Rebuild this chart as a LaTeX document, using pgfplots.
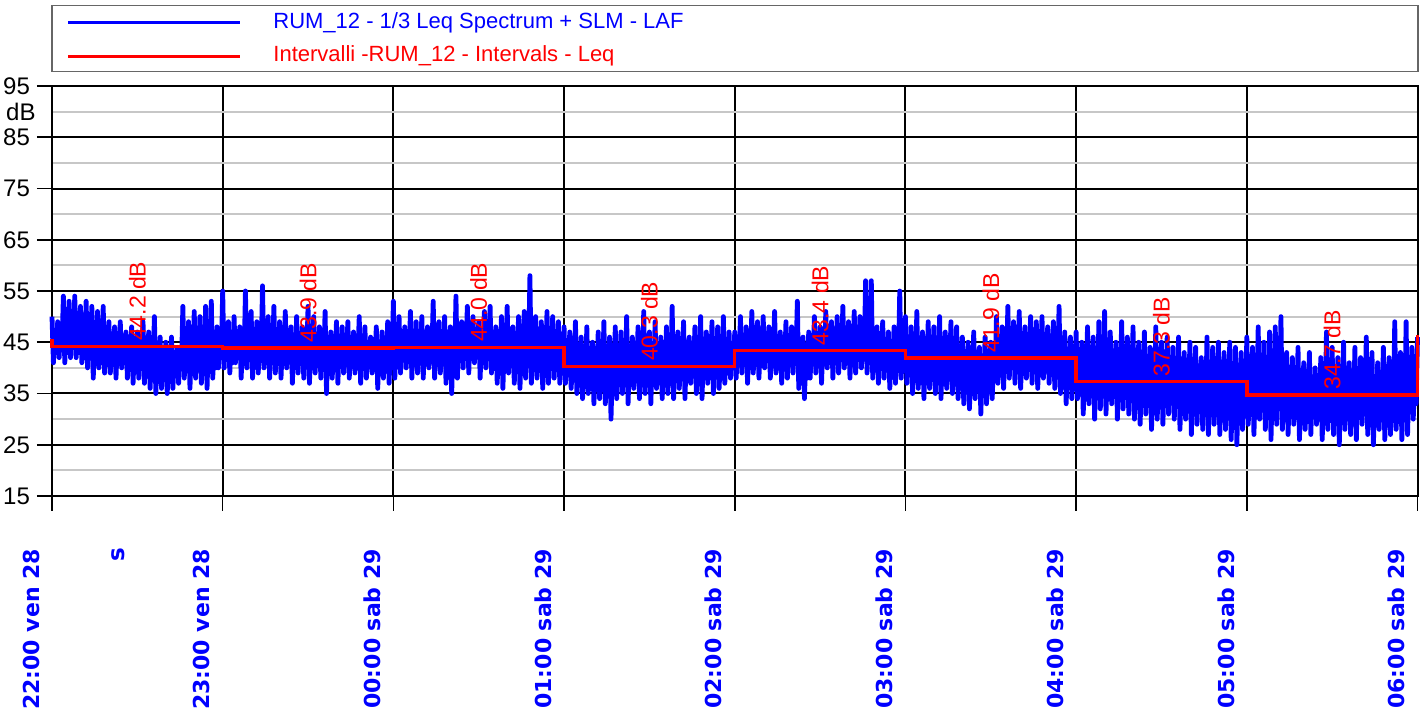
\documentclass[border=0pt]{standalone}
\usepackage{pgfplots}
\pgfplotsset{compat=1.18}
\usepackage{fontspec}
\setmainfont{Liberation Sans}
\newfontfamily\dejavu{DejaVu Sans}
\definecolor{bl}{RGB}{0,0,255}
\definecolor{rd}{RGB}{255,0,0}
\begin{document}
\begin{tikzpicture}
\begin{axis}[name=ax,
 scale only axis, width=682.75pt, height=205pt,
 xmin=0, xmax=480, ymin=15, ymax=95,
 xtick={0,60,...,480},
 xticklabels={22:00 ven 28,23:00 ven 28,00:00 sab 29,01:00 sab 29,02:00 sab 29,03:00 sab 29,04:00 sab 29,05:00 sab 29,06:00 sab 29},
 ytick={15,25,...,95},
 minor ytick={20,30,...,90},
 grid=both,
 major grid style={black, line width=1pt},
 minor grid style={black!22, line width=0.9pt},
 axis line style={black, line width=1pt},
 tick style={black, line width=0.8pt},
 tick align=outside, xtick pos=bottom, ytick pos=left,
 major tick length=7.5pt, minor tick length=0pt,
 /pgf/number format/assume math mode=true,
 yticklabel style={font=\fontsize{12}{12}\selectfont},
 xticklabel style={yshift=-15.5pt, xshift=-10.5pt, rotate=90, anchor=east, font=\dejavu\bfseries\fontsize{11}{12}\selectfont, text=bl},
 clip=false,
]
\addplot[bl, line width=2.4pt, line join=round] coordinates {
(0,50)(0.5,41)(1,47)(1.5,43)(2,49)(2.5,42)(3,48)(3.5,44)(4,54)(4.5,41)(5,49)(5.5,43)(6,53)(6.5,42)(7,48)(7.5,44)(8,54)(8.5,42)(9,47)(9.5,43)(10,52)(10.5,41)(11,48)(11.5,42)(12,53)(12.5,40)(13,47)(13.5,43)(14,52)(14.5,38)(15,46)(15.5,42)(16,51)(16.5,40)(17,47)(17.5,41)(18,52)(18.5,39)(19,46)(19.5,42)(20,49)(20.5,39)(21,45)(21.5,41)(22,48)(22.5,38)(23,46)(23.5,42)(24,49)(24.5,40)(25,45)(25.5,41)(26,47)(26.5,38)(27,46)(27.5,40)(28,48)(28.5,37)(29,45)(29.5,41)(30,47)(30.5,38)(31,44)(31.5,40)(32,49)(32.5,37)(33,45)(33.5,41)(34,47)(34.5,36)(35,44)(35.5,40)(36,50)(36.5,35)(37,43)(37.5,39)(38,46)(38.5,36)(39,43)(39.5,39)(40,45)(40.5,35)(41,42)(41.5,38)(42,46)(42.5,36)(43,43)(43.5,39)(44,44)(44.5,37)(45,44)(45.5,40)(46,52)(46.5,38)(47,46)(47.5,41)(48,49)(48.5,36)(49,45)(49.5,40)(50,51)(50.5,38)(51,46)(51.5,41)(52,50)(52.5,37)(53,45)(53.5,40)(54,52)(54.5,36)(55,46)(55.5,41)(56,53)(56.5,38)(57,45)(57.5,40)(58,48)(58.5,40)(59,46)(59.5,42)
(60,55)(60.5,40)(61,47)(61.5,42)(62,49)(62.5,39)(63,46)(63.5,41)(64,50)(64.5,41)(65,47)(65.5,42)(66,48)(66.5,38)(67,46)(67.5,41)(68,55)(68.5,40)(69,47)(69.5,42)(70,51)(70.5,38)(71,46)(71.5,41)(72,49)(72.5,39)(73,47)(73.5,42)(74,56)(74.5,40)(75,46)(75.5,41)(76,50)(76.5,38)(77,47)(77.5,42)(78,52)(78.5,39)(79,46)(79.5,41)(80,49)(80.5,38)(81,45)(81.5,41)(82,51)(82.5,40)(83,46)(83.5,42)(84,48)(84.5,37)(85,45)(85.5,41)(86,50)(86.5,39)(87,46)(87.5,42)(88,48)(88.5,38)(89,45)(89.5,41)(90,52)(90.5,37)(91,46)(91.5,41)(92,50)(92.5,39)(93,46)(93.5,42)(94,48)(94.5,38)(95,45)(95.5,41)(96,51)(96.5,35)(97,46)(97.5,40)(98,47)(98.5,38)(99,45)(99.5,41)(100,49)(100.5,37)(101,46)(101.5,41)(102,48)(102.5,39)(103,45)(103.5,42)(104,49)(104.5,38)(105,46)(105.5,41)(106,47)(106.5,39)(107,45)(107.5,42)(108,50)(108.5,37)(109,46)(109.5,41)(110,48)(110.5,38)(111,45)(111.5,41)(112,46)(112.5,39)(113,44)(113.5,41)(114,48)(114.5,36)(115,45)(115.5,40)(116,47)(116.5,38)(117,45)(117.5,41)(118,49)(118.5,37)(119,46)(119.5,41)
(120,53)(120.5,38)(121,46)(121.5,41)(122,50)(122.5,39)(123,47)(123.5,42)(124,48)(124.5,40)(125,46)(125.5,42)(126,51)(126.5,38)(127,47)(127.5,41)(128,49)(128.5,39)(129,46)(129.5,42)(130,50)(130.5,38)(131,47)(131.5,41)(132,48)(132.5,40)(133,46)(133.5,42)(134,53)(134.5,38)(135,47)(135.5,41)(136,49)(136.5,39)(137,46)(137.5,42)(138,50)(138.5,37)(139,46)(139.5,41)(140,48)(140.5,35)(141,45)(141.5,40)(142,54)(142.5,38)(143,47)(143.5,42)(144,49)(144.5,40)(145,47)(145.5,43)(146,52)(146.5,39)(147,47)(147.5,42)(148,50)(148.5,41)(149,47)(149.5,43)(150,49)(150.5,38)(151,46)(151.5,42)(152,51)(152.5,40)(153,47)(153.5,43)(154,52)(154.5,39)(155,47)(155.5,42)(156,48)(156.5,37)(157,46)(157.5,41)(158,50)(158.5,36)(159,45)(159.5,40)(160,52)(160.5,39)(161,46)(161.5,41)(162,48)(162.5,37)(163,45)(163.5,40)(164,50)(164.5,36)(165,45)(165.5,41)(166,51)(166.5,38)(167,46)(167.5,41)(168,58)(168.5,37)(169,45)(169.5,40)(170,50)(170.5,38)(171,45)(171.5,41)(172,49)(172.5,36)(173,44)(173.5,40)(174,51)(174.5,37)(175,45)(175.5,41)(176,50)(176.5,38)(177,45)(177.5,40)(178,49)(178.5,37)(179,44)(179.5,40)
(180,48)(180.5,37)(181,43)(181.5,39)(182,47)(182.5,36)(183,42)(183.5,38)(184,49)(184.5,35)(185,42)(185.5,37)(186,46)(186.5,34)(187,41)(187.5,37)(188,48)(188.5,35)(189,42)(189.5,36)(190,45)(190.5,33)(191,41)(191.5,36)(192,47)(192.5,34)(193,42)(193.5,37)(194,49)(194.5,33)(195,41)(195.5,36)(196,46)(196.5,30)(197,41)(197.5,36)(198,48)(198.5,34)(199,42)(199.5,37)(200,47)(200.5,35)(201,43)(201.5,38)(202,50)(202.5,33)(203,42)(203.5,37)(204,46)(204.5,36)(205,43)(205.5,38)(206,48)(206.5,34)(207,42)(207.5,37)(208,51)(208.5,35)(209,43)(209.5,38)(210,47)(210.5,33)(211,42)(211.5,37)(212,49)(212.5,36)(213,43)(213.5,38)(214,46)(214.5,34)(215,42)(215.5,37)(216,48)(216.5,35)(217,43)(217.5,38)(218,52)(218.5,34)(219,43)(219.5,38)(220,47)(220.5,36)(221,44)(221.5,39)(222,49)(222.5,34)(223,43)(223.5,38)(224,46)(224.5,37)(225,44)(225.5,39)(226,48)(226.5,35)(227,43)(227.5,38)(228,50)(228.5,34)(229,44)(229.5,39)(230,47)(230.5,37)(231,43)(231.5,39)(232,49)(232.5,35)(233,44)(233.5,39)(234,48)(234.5,36)(235,43)(235.5,38)(236,50)(236.5,37)(237,44)(237.5,39)(238,47)(238.5,38)(239,44)(239.5,40)
(240,47)(240.5,38)(241,45)(241.5,41)(242,50)(242.5,39)(243,46)(243.5,41)(244,48)(244.5,37)(245,45)(245.5,40)(246,51)(246.5,39)(247,46)(247.5,41)(248,49)(248.5,38)(249,45)(249.5,41)(250,50)(250.5,40)(251,46)(251.5,42)(252,48)(252.5,38)(253,45)(253.5,41)(254,51)(254.5,39)(255,46)(255.5,41)(256,47)(256.5,37)(257,45)(257.5,40)(258,49)(258.5,38)(259,45)(259.5,41)(260,48)(260.5,39)(261,46)(261.5,41)(262,53)(262.5,36)(263,44)(263.5,39)(264,46)(264.5,34)(265,43)(265.5,38)(266,47)(266.5,38)(267,45)(267.5,41)(268,50)(268.5,39)(269,46)(269.5,42)(270,48)(270.5,37)(271,45)(271.5,41)(272,51)(272.5,40)(273,46)(273.5,42)(274,49)(274.5,38)(275,46)(275.5,41)(276,50)(276.5,39)(277,46)(277.5,42)(278,52)(278.5,40)(279,47)(279.5,42)(280,49)(280.5,38)(281,46)(281.5,41)(282,51)(282.5,39)(283,46)(283.5,42)(284,50)(284.5,40)(285,47)(285.5,42)(286,57)(286.5,39)(287,46)(287.5,41)(288,57)(288.5,38)(289,46)(289.5,41)(290,48)(290.5,37)(291,45)(291.5,40)(292,49)(292.5,38)(293,45)(293.5,41)(294,47)(294.5,36)(295,44)(295.5,40)(296,48)(296.5,37)(297,45)(297.5,40)(298,55)(298.5,38)(299,45)(299.5,40)
(300,50)(300.5,37)(301,44)(301.5,39)(302,48)(302.5,35)(303,43)(303.5,38)(304,51)(304.5,36)(305,44)(305.5,39)(306,47)(306.5,34)(307,43)(307.5,38)(308,49)(308.5,36)(309,44)(309.5,39)(310,48)(310.5,35)(311,43)(311.5,38)(312,50)(312.5,34)(313,44)(313.5,38)(314,47)(314.5,36)(315,43)(315.5,39)(316,49)(316.5,35)(317,44)(317.5,38)(318,48)(318.5,34)(319,42)(319.5,37)(320,46)(320.5,33)(321,41)(321.5,36)(322,45)(322.5,32)(323,41)(323.5,36)(324,47)(324.5,34)(325,42)(325.5,37)(326,44)(326.5,31)(327,40)(327.5,36)(328,46)(328.5,33)(329,41)(329.5,37)(330,45)(330.5,34)(331,42)(331.5,38)(332,50)(332.5,37)(333,45)(333.5,40)(334,48)(334.5,36)(335,44)(335.5,40)(336,52)(336.5,38)(337,45)(337.5,41)(338,49)(338.5,37)(339,45)(339.5,40)(340,51)(340.5,36)(341,44)(341.5,40)(342,48)(342.5,38)(343,45)(343.5,41)(344,50)(344.5,37)(345,45)(345.5,40)(346,49)(346.5,36)(347,44)(347.5,40)(348,50)(348.5,38)(349,45)(349.5,41)(350,48)(350.5,37)(351,44)(351.5,40)(352,49)(352.5,36)(353,44)(353.5,39)(354,52)(354.5,35)(355,43)(355.5,38)(356,47)(356.5,33)(357,42)(357.5,37)(358,46)(358.5,34)(359,42)(359.5,37)
(360,47)(360.5,34)(361,42)(361.5,37)(362,45)(362.5,31)(363,41)(363.5,36)(364,48)(364.5,33)(365,42)(365.5,36)(366,46)(366.5,30)(367,41)(367.5,35)(368,49)(368.5,32)(369,42)(369.5,36)(370,51)(370.5,31)(371,41)(371.5,35)(372,47)(372.5,33)(373,42)(373.5,36)(374,45)(374.5,30)(375,40)(375.5,35)(376,49)(376.5,32)(377,41)(377.5,36)(378,46)(378.5,31)(379,40)(379.5,35)(380,48)(380.5,30)(381,40)(381.5,34)(382,45)(382.5,29)(383,39)(383.5,34)(384,47)(384.5,31)(385,40)(385.5,35)(386,44)(386.5,28)(387,39)(387.5,33)(388,48)(388.5,30)(389,40)(389.5,34)(390,45)(390.5,29)(391,39)(391.5,33)(392,46)(392.5,31)(393,40)(393.5,34)(394,44)(394.5,30)(395,39)(395.5,33)(396,46)(396.5,28)(397,38)(397.5,32)(398,43)(398.5,30)(399,38)(399.5,33)(400,45)(400.5,27)(401,37)(401.5,32)(402,44)(402.5,29)(403,38)(403.5,32)(404,42)(404.5,28)(405,37)(405.5,31)(406,46)(406.5,27)(407,38)(407.5,32)(408,44)(408.5,29)(409,37)(409.5,32)(410,45)(410.5,27)(411,38)(411.5,31)(412,43)(412.5,28)(413,37)(413.5,32)(414,45)(414.5,26)(415,37)(415.5,31)(416,44)(416.5,25)(417,36)(417.5,31)(418,43)(418.5,28)(419,38)(419.5,32)
(420,46)(420.5,29)(421,38)(421.5,33)(422,44)(422.5,27)(423,37)(423.5,32)(424,48)(424.5,30)(425,38)(425.5,33)(426,45)(426.5,28)(427,37)(427.5,32)(428,47)(428.5,26)(429,38)(429.5,32)(430,48)(430.5,29)(431,38)(431.5,33)(432,50)(432.5,28)(433,37)(433.5,32)(434,43)(434.5,27)(435,36)(435.5,31)(436,42)(436.5,29)(437,36)(437.5,31)(438,44)(438.5,26)(439,36)(439.5,30)(440,41)(440.5,28)(441,35)(441.5,31)(442,43)(442.5,27)(443,36)(443.5,31)(444,40)(444.5,29)(445,35)(445.5,31)(446,42)(446.5,26)(447,36)(447.5,30)(448,47)(448.5,28)(449,37)(449.5,32)(450,44)(450.5,27)(451,36)(451.5,31)(452,42)(452.5,25)(453,36)(453.5,30)(454,45)(454.5,28)(455,37)(455.5,32)(456,41)(456.5,27)(457,36)(457.5,31)(458,44)(458.5,26)(459,37)(459.5,31)(460,42)(460.5,29)(461,36)(461.5,32)(462,46)(462.5,27)(463,37)(463.5,31)(464,43)(464.5,25)(465,36)(465.5,30)(466,41)(466.5,28)(467,36)(467.5,31)(468,44)(468.5,26)(469,37)(469.5,31)(470,42)(470.5,27)(471,36)(471.5,31)(472,49)(472.5,28)(473,37)(473.5,32)(474,43)(474.5,26)(475,36)(475.5,31)(476,49)(476.5,27)(477,38)(477.5,32)(478,44)(478.5,30)(479,38)(479.5,33)(480,46)
};
\addplot[rd, line width=1.7pt] coordinates {
(0,45.6)(0,44.2)(60,44.2)(60,43.9)(120,43.9)(120,44.0)(180,44.0)(180,40.3)(240,40.3)(240,43.4)(300,43.4)(300,41.9)(360,41.9)(360,37.3)(420,37.3)(420,34.7)(480,34.7)(480,46.4)
};
\begin{scope}[every node/.style={rotate=90, anchor=west, text=rd, inner sep=2.5pt, font=\fontsize{11.5}{12}\selectfont}]
\node at (axis cs:30,44.2) {44.2 dB};
\node at (axis cs:90,43.9) {43.9 dB};
\node at (axis cs:150,44.0) {44.0 dB};
\node at (axis cs:210,40.3) {40.3 dB};
\node at (axis cs:270,43.4) {43.4 dB};
\node at (axis cs:330,41.9) {41.9 dB};
\node at (axis cs:390,37.3) {37.3 dB};
\node at (axis cs:450,34.7) {34.7 dB};
\end{scope}
\node[anchor=east, inner sep=0pt, font=\fontsize{12}{12}\selectfont] at ([xshift=-8pt]axis cs:0,90) {dB};
\node[rotate=90, anchor=east, inner sep=0pt, text=bl, font=\dejavu\bfseries\fontsize{11.5}{12}\selectfont] at ([yshift=-25.5pt]axis cs:23.2,15) {s};
\end{axis}
\begin{scope}[shift={(ax.north west)}]
\draw[draw=black!60, line width=0.8pt] (0,7.2pt) rectangle (683pt,40.2pt);
\draw[bl, line width=1.5pt] (8pt,31.8pt) -- (94pt,31.8pt);
\draw[rd, line width=1.5pt] (8pt,15pt) -- (94pt,15pt);
\node[anchor=base west, inner sep=0pt, text=bl, font=\fontsize{11}{12}\selectfont] at (110.5pt,28.8pt) {RUM\_12 - 1/3 Leq Spectrum + SLM - LAF};
\node[anchor=base west, inner sep=0pt, text=rd, font=\fontsize{11}{12}\selectfont] at (110.5pt,12.5pt) {Intervalli -RUM\_12 - Intervals - Leq};
\end{scope}
\pgfresetboundingbox
\path[use as bounding box] ([xshift=-26pt,yshift=43pt]ax.north west) rectangle ([xshift=686pt,yshift=-107pt]ax.south west);
\end{tikzpicture}
\end{document}
